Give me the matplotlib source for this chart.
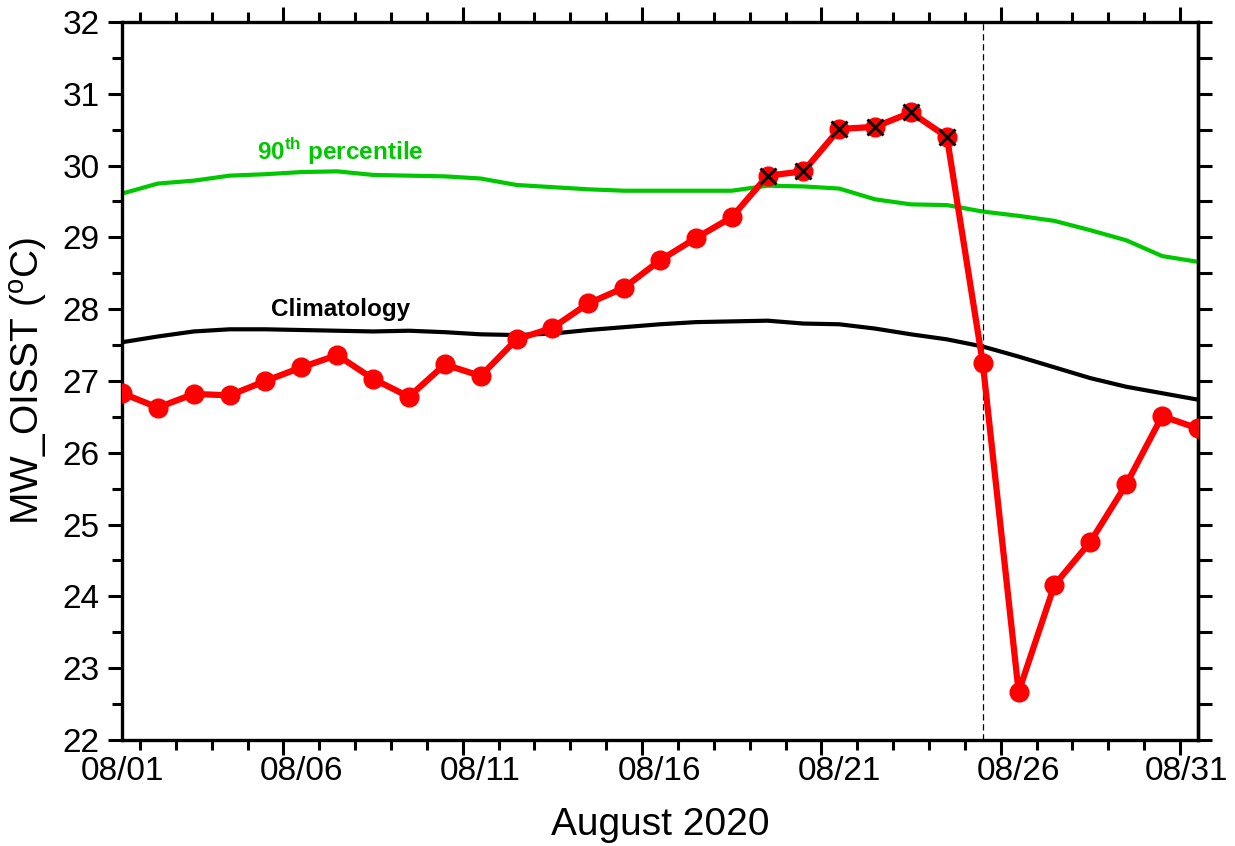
import numpy as np
import pandas as pd
import matplotlib
matplotlib.use("Agg")
import matplotlib.pyplot as plt
import matplotlib.dates as mdates

plt.rcParams['font.family'] = ['Liberation Sans', 'DejaVu Sans']
plt.rcParams['mathtext.fontset'] = 'custom'
plt.rcParams['mathtext.rm'] = 'Liberation Sans'
plt.rcParams['mathtext.bf'] = 'Liberation Sans:bold'

# daily values, August 2020 (plotted at noon of each day)
days = pd.date_range('2020-08-01 12:00', '2020-08-31 12:00', freq='D')

sst = [26.83, 26.63, 26.82, 26.80, 27.00, 27.19, 27.36, 27.03, 26.78, 27.23,
       27.07, 27.58, 27.74, 28.08, 28.30, 28.68, 28.99, 29.28, 29.86, 29.92,
       30.51, 30.54, 30.74, 30.40, 27.25, 22.67, 24.16, 24.76, 25.56, 26.51,
       26.34]

clim = [27.54, 27.62, 27.69, 27.72, 27.72, 27.71, 27.70, 27.69, 27.70, 27.68,
        27.65, 27.64, 27.66, 27.71, 27.75, 27.79, 27.82, 27.83, 27.84, 27.80,
        27.79, 27.73, 27.65, 27.58, 27.48, 27.34, 27.19, 27.04, 26.92, 26.83,
        26.74]

p90 = [29.61, 29.75, 29.79, 29.86, 29.88, 29.91, 29.92, 29.87, 29.86, 29.85,
       29.82, 29.73, 29.70, 29.67, 29.65, 29.65, 29.65, 29.65, 29.72, 29.71,
       29.68, 29.53, 29.46, 29.45, 29.36, 29.30, 29.23, 29.10, 28.96, 28.74,
       28.66]

# days above the 90th percentile flagged with an x
flag_days = days[18:24]
flag_sst = sst[18:24]

label_days = ['08/01', '08/06', '08/11', '08/16', '08/21', '08/26', '08/31']
event_day = pd.Timestamp('2020-08-25 12:00')

fig = plt.figure(figsize=(12.35, 8.46), dpi=100)
ax = fig.add_axes([0.0988, 0.1253, 0.8712, 0.8487])

ax.plot(days, p90, color='#00c800', lw=3, zorder=2)
ax.plot(days, clim, color='black', lw=3, zorder=2)
ax.axvline(event_day, color='black', lw=0.9, ls=(0, (5, 3)), zorder=3)
ax.plot(days, sst, color='red', lw=4.5, marker='o', ms=13.5, zorder=4)
ax.plot(flag_days, flag_sst, ls='none', marker='x', color='black', ms=11, mew=2, zorder=5)

ax.text(pd.Timestamp('2020-08-07 14:00'), 30.2, r'90$^{\bf th}$ percentile',
        color='#00c800', fontsize=17.5, fontweight='bold', ha='center', va='center')
ax.text(pd.Timestamp('2020-08-07 14:00'), 28.0, 'Climatology',
        color='black', fontsize=17.5, fontweight='bold', ha='center', va='center')

ax.set_xlim(days[0], days[-1])
ax.set_ylim(22, 32)

ax.xaxis.set_major_locator(mdates.DayLocator(bymonthday=[1, 6, 11, 16, 21, 26, 31]))
ax.xaxis.set_minor_locator(mdates.DayLocator())
ax.xaxis.set_major_formatter(plt.NullFormatter())
ax.set_yticks(np.arange(22, 33, 1))
ax.set_yticks(np.arange(22, 32.01, 0.5), minor=True)

ax.tick_params(axis='x', which='major', direction='out', length=11, width=2.2,
               top=True, bottom=True)
ax.tick_params(axis='x', which='minor', direction='out', length=7, width=2.2,
               top=True, bottom=True)
ax.tick_params(axis='y', which='major', direction='out', length=10, width=2.2,
               labelsize=24, right=False, pad=6)
ax.tick_params(axis='y', which='minor', direction='out', length=7, width=2.2, right=False)

sec = ax.secondary_yaxis('right')
sec.set_yticks(np.arange(22, 32.01, 0.5))
sec.tick_params(direction='out', length=10, width=2.2, labelright=False)
sec.spines['right'].set_linewidth(2.4)

for s in ax.spines.values():
    s.set_linewidth(2.4)

# date labels sit at the middle of each day
for i, lbl in enumerate(label_days):
    d = pd.Timestamp('2020-' + lbl.replace('/', '-') + ' 12:00')
    dx = -8 if i == len(label_days) - 1 else 0
    ax.annotate(lbl, xy=(d, 0), xycoords=('data', 'axes fraction'),
                xytext=(dx, -23), textcoords='offset points',
                ha='center', va='center', fontsize=24)

ax.set_xlabel('August 2020', fontsize=28, labelpad=34)
ax.set_ylabel(r'MW_OISST ($^{\rm o}$C)', fontsize=28, labelpad=9)

fig.savefig('out.png', dpi=100)
